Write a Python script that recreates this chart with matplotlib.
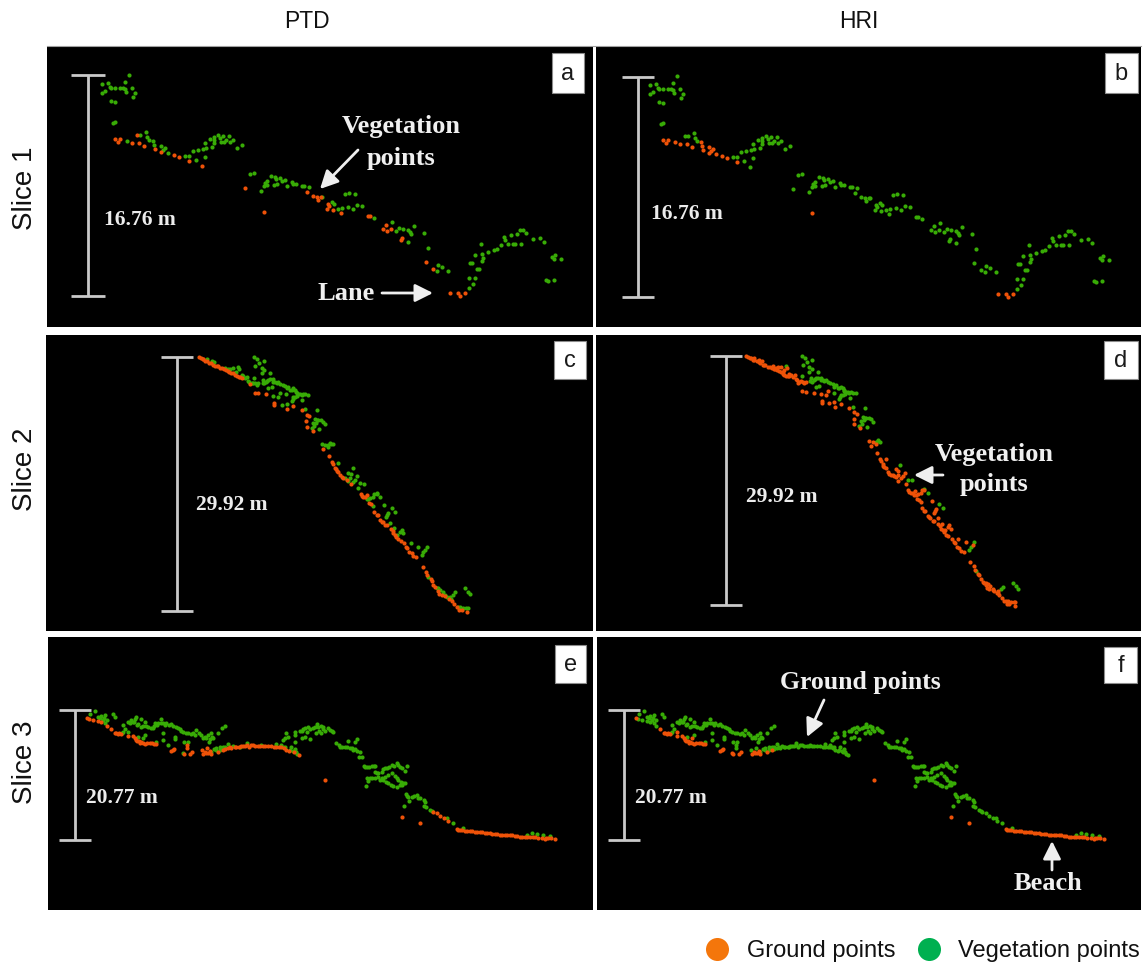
import numpy as np
import matplotlib
matplotlib.use("Agg")
import matplotlib.pyplot as plt
from matplotlib.patches import Rectangle

W, H = 1146, 963

# ==========================================================
# POINT CLOUDS (x, y in slice units, y going down)
# both = same class in both filters, swapped = class differs
# ==========================================================
S1_BOTH_GROUND = [(202, 278), (215, 280), (210, 289), (252, 292), (272, 292), (287, 301), (320, 309), (340, 318),
                  (378, 327), (393, 332), (423, 346), (648, 499), (1206, 742), (1231, 742), (1236, 749), (1251, 742)]
S1_GROUND_TO_VEG = [(268, 268), (463, 359), (591, 425), (777, 437), (796, 450), (806, 452), (819, 453), (811, 461),
                    (839, 473), (844, 480), (838, 488), (854, 492), (878, 500), (961, 510), (966, 510), (1014, 538),
                    (1029, 548), (1004, 549), (1016, 555), (1062, 577), (1058, 583), (1133, 647), (1156, 668)]
S1_VEG_TO_GROUND = [(238, 285), (316, 285), (317, 296), (338, 301), (350, 307), (345, 313), (361, 320)]
S1_BOTH_VEG = [(243, 87), (162, 113), (181, 110), (232, 107), (185, 122), (190, 127), (200, 127), (217, 125),
               (225, 127), (230, 130), (251, 126), (170, 135), (162, 141), (235, 138), (260, 141), (254, 152),
               (189, 166), (201, 168), (195, 232), (200, 229), (293, 257), (277, 268), (297, 272), (302, 281),
               (410, 330), (423, 330), (435, 314), (449, 311), (465, 309), (475, 305), (492, 303), (472, 290),
               (485, 280), (497, 272), (499, 283), (499, 291), (511, 266), (515, 277), (524, 270), (518, 289),
               (527, 289), (533, 282), (542, 270), (547, 287), (556, 281), (568, 306), (582, 296), (444, 342),
               (472, 334), (607, 383), (617, 380), (640, 436), (648, 420), (652, 412), (658, 406), (656, 418),
               (670, 389), (680, 394), (684, 400), (695, 397), (702, 405), (710, 401), (688, 414), (678, 418),
               (717, 419), (732, 408), (735, 414), (743, 415), (762, 419), (768, 421), (782, 423),
               (821, 453), (851, 468), (858, 473), (891, 444), (904, 440), (920, 444), (871, 490), (883, 485),
               (901, 484), (916, 488), (926, 476), (942, 480), (978, 515), (1031, 529), (1044, 555), (1054, 545),
               (1064, 548), (1079, 551), (1086, 558), (1089, 563), (1097, 541), (1129, 562), (1080, 587),
               (1140, 607), (1169, 656), (1182, 663), (1166, 676), (1200, 674), (1300, 595), (1282, 628),
               (1266, 652), (1302, 625), (1306, 635), (1303, 645), (1321, 618), (1339, 612), (1346, 610),
               (1358, 597), (1368, 572), (1371, 582), (1389, 566), (1408, 563), (1416, 552), (1426, 552),
               (1433, 560), (1381, 593), (1396, 593), (1402, 594), (1420, 594), (1456, 580), (1477, 577),
               (1489, 587), (1522, 628), (1511, 633), (1519, 640), (1538, 638), (1494, 702), (1500, 706),
               (1517, 702), (1286, 670), (1294, 670), (1263, 697), (1281, 696), (1276, 715), (1264, 725),
               (1272, 650)]

S2_BOTH_GROUND = [(116, 51), (122, 54), (128, 56), (140, 64), (148, 68), (158, 74), (165, 78), (173, 79), (180, 84),
                  (187, 85), (203, 92), (208, 95), (220, 100), (225, 106), (236, 111), (245, 114), (270, 133),
                  (284, 158), (295, 160), (318, 163), (342, 190), (343, 195), (382, 206), (400, 198), (425, 210),
                  (440, 224), (447, 228), (438, 243), (440, 260), (458, 272), (490, 328), (508, 347), (517, 367),
                  (520, 373), (525, 383), (535, 395), (540, 405), (545, 412), (572, 433), (602, 462), (610, 472),
                  (622, 465), (628, 490), (634, 492), (642, 516), (653, 526), (660, 540), (668, 547), (675, 555),
                  (692, 567), (698, 572), (708, 590), (715, 598), (722, 603), (732, 610), (742, 625), (748, 635),
                  (760, 648), (768, 652), (788, 682), (798, 695), (802, 705), (815, 722), (820, 735), (825, 742),
                  (838, 762), (845, 765), (868, 777), (882, 792), (898, 810), (922, 817),
                  (130, 58), (135, 62), (153, 70), (170, 78), (192, 88), (198, 90), (214, 98), (230, 108), (240, 112),
                  (527, 388), (530, 392), (550, 415), (560, 420), (605, 468), (615, 470), (650, 525), (665, 545),
                  (680, 555), (700, 580), (705, 585), (738, 620), (755, 640), (812, 718), (835, 752), (855, 768),
                  (875, 782), (890, 800), (905, 810)]
S2_VEG_TO_GROUND = [(140, 58), (155, 64), (162, 66), (195, 83), (210, 86), (220, 85), (238, 88), (225, 100),
                    (250, 108), (262, 110), (265, 122), (280, 128), (290, 135), (295, 130), (340, 168), (360, 158),
                    (355, 170), (365, 195), (380, 192), (485, 312), (495, 315), (505, 322), (535, 368), (565, 398),
                    (572, 403), (592, 408), (555, 415), (565, 422), (580, 425), (595, 443), (620, 476), (630, 475),
                    (642, 462), (640, 497), (672, 495), (682, 525), (678, 532), (690, 548), (702, 565), (725, 570),
                    (730, 580), (712, 585), (752, 610), (775, 622), (830, 745), (840, 750), (855, 765), (872, 778),
                    (895, 800), (910, 805), (923, 804),
                    (205, 88), (228, 95), (245, 105), (255, 115), (268, 125), (275, 130), (285, 130), (570, 415),
                    (585, 420), (625, 478), (640, 470), (650, 462), (685, 520), (720, 575), (795, 630), (835, 745),
                    (848, 755), (860, 770), (870, 770), (900, 800), (918, 805)]
S2_BOTH_VEG = [(235, 82), (283, 113), (282, 52), (292, 56), (312, 62), (298, 70), (285, 78), (305, 85), (312, 90),
               (330, 100), (305, 100), (310, 120), (312, 130), (325, 120), (330, 118), (345, 125), (355, 125),
               (368, 135), (385, 140), (395, 150), (405, 150), (410, 158), (420, 162), (430, 162), (444, 165),
               (325, 145), (335, 142), (378, 163), (400, 172), (395, 182), (426, 181), (435, 207), (472, 210),
               (465, 238), (472, 240), (483, 240), (495, 252), (460, 250), (478, 268), (455, 265), (510, 308),
               (518, 313), (578, 385), (600, 430), (612, 432), (650, 458), (660, 470), (695, 503), (705, 515),
               (800, 620), (790, 635), (785, 645), (805, 710), (885, 757), (880, 765), (915, 745), (925, 755),
               (930, 763),
               (340, 125), (350, 128), (360, 132), (375, 138), (380, 145), (390, 150), (400, 145), (408, 155),
               (415, 162), (425, 165), (435, 163), (405, 172), (412, 168), (398, 178), (308, 128), (318, 125),
               (322, 122), (340, 118), (468, 248), (462, 258), (475, 240), (490, 245), (505, 315), (512, 312)]

S3_BOTH_GROUND = [(118, 83), (190, 118), (200, 130), (212, 128), (218, 132), (240, 137), (255, 137), (265, 150),
                  (272, 153), (280, 155), (290, 162), (305, 160), (318, 163), (325, 163), (370, 183), (378, 178),
                  (408, 192), (425, 192), (432, 185), (465, 193), (480, 190), (490, 192), (510, 185), (525, 180),
                  (831, 271), (1061, 382), (1116, 400), (1226, 417), (1236, 420), (1251, 422), (1266, 424),
                  (1281, 425), (1296, 427), (1311, 428), (1326, 430), (1341, 432), (1356, 434), (1371, 435),
                  (1386, 436), (1401, 437), (1416, 440), (1431, 441), (1446, 440), (1456, 440), (1481, 445),
                  (1501, 445), (1522, 447),
                  (260, 143), (268, 153), (276, 158), (285, 160), (298, 160), (312, 160), (210, 132), (205, 128),
                  (375, 180), (470, 185), (485, 182), (475, 190),
                  (1230, 419), (1243, 421), (1258, 423), (1273, 424), (1288, 426), (1303, 427), (1318, 429),
                  (1333, 431), (1348, 433), (1363, 434), (1378, 435), (1393, 436), (1408, 438), (1423, 440),
                  (1438, 441), (1462, 441), (1471, 443), (1490, 446), (1495, 443), (1510, 443)]
S3_GROUND_TO_VEG = [(122, 86), (135, 90), (150, 93), (158, 97), (176, 108), (417, 165), (418, 175), (462, 180),
                    (478, 175), (540, 175), (550, 175), (565, 170), (580, 168), (590, 167), (603, 170), (615, 165),
                    (630, 168), (645, 168), (660, 168), (685, 170), (700, 172), (722, 183), (738, 187), (752, 196),
                    (1156, 365), (1166, 370), (1176, 378), (1188, 383), (1201, 392),
                    (560, 172), (572, 170), (585, 168), (597, 165), (610, 166), (622, 167), (637, 168), (652, 168),
                    (668, 168), (678, 170), (692, 170), (708, 175), (715, 180), (530, 178), (545, 172)]
S3_VEG_TO_GROUND = [(285, 145), (240, 125), (405, 188)]
S3_BOTH_VEG = [(142, 63), (127, 72), (160, 78), (170, 75), (168, 85), (178, 90), (196, 72), (200, 82), (170, 100),
               (225, 105), (240, 95), (250, 90), (263, 82), (280, 88), (290, 95), (258, 97), (270, 102), (285, 108),
               (300, 112), (315, 115), (322, 100), (330, 98), (338, 88), (345, 100), (355, 100), (370, 102),
               (385, 110), (395, 118), (405, 125), (420, 130), (435, 128), (445, 120), (458, 135), (470, 140),
               (480, 135), (490, 130), (495, 145), (483, 155), (510, 130), (522, 115), (530, 107), (225, 125),
               (270, 140), (290, 135), (345, 128), (345, 150), (325, 155), (380, 140), (380, 148), (360, 165),
               (408, 155), (420, 155), (490, 185), (505, 175), (515, 172), (525, 172), (540, 162), (597, 160),
               (685, 162), (705, 170), (715, 130), (712, 145), (706, 150), (720, 140), (740, 125), (742, 135),
               (755, 122), (740, 155), (728, 170), (740, 178),
               (245, 100), (255, 95), (268, 105), (278, 112), (295, 108), (308, 115), (318, 108), (328, 105),
               (340, 100), (350, 105), (362, 105), (375, 108), (390, 115), (400, 122), (415, 128), (428, 132),
               (440, 135), (452, 130), (465, 145), (475, 145), (487, 148), (492, 140), (232, 118), (222, 128),
               (260, 88), (150, 80), (155, 85), (165, 90), (505, 180), (498, 178), (515, 180), (530, 170),
               (555, 168), (575, 170), (640, 165), (700, 165), (712, 172), (725, 180), (735, 183), (745, 185),
               (748, 192),
               (761, 122), (771, 115), (781, 112), (794, 115), (806, 103), (818, 108), (826, 118), (841, 115),
               (856, 125), (771, 140), (761, 145), (786, 148), (804, 130), (818, 130), (864, 158), (876, 170),
               (891, 170), (906, 175), (921, 178), (936, 185), (899, 152), (921, 155), (928, 148), (941, 202),
               (948, 228), (964, 230), (981, 227), (986, 248), (1001, 245), (1018, 235), (1031, 225), (1046, 220),
               (1056, 232), (1078, 227), (1071, 243), (956, 263), (961, 272), (981, 265), (1001, 265), (1021, 255),
               (1041, 258), (1051, 270), (1004, 270), (1021, 280), (1036, 288), (1056, 285), (1066, 280),
               (953, 288), (1076, 318), (1091, 322), (1106, 315), (1116, 325), (1084, 332), (1131, 335),
               (1129, 348), (1069, 347), (1146, 360), (1196, 385), (1216, 398), (1246, 413), (1436, 435),
               (1451, 430), (1466, 432), (1486, 435), (1506, 438),
               (766, 118), (776, 125), (786, 118), (801, 110), (811, 112), (814, 122), (824, 110), (831, 122),
               (846, 120), (851, 122), (874, 165), (881, 172), (898, 172), (911, 175), (916, 180), (928, 182),
               (934, 200), (951, 230), (958, 230), (971, 228), (978, 228), (981, 245), (991, 248), (1006, 238),
               (1011, 235), (1024, 230), (1039, 228), (1051, 225), (1061, 235), (966, 265), (971, 265), (991, 262),
               (996, 270), (1011, 262), (1031, 250), (1046, 265), (1014, 275), (1028, 285), (1046, 290),
               (1061, 285), (1071, 280), (1058, 275), (1074, 312), (1081, 320), (1098, 318), (1111, 325),
               (1128, 330), (1134, 350), (1151, 362)]

SLICE_LABELS = ["Slice 1", "Slice 2", "Slice 3"]
METHODS = ["PTD", "HRI"]
PANEL_LETTERS = ["a", "b", "c", "d", "e", "f"]
BAR_LABELS = ["16.76 m", "16.76 m", "29.92 m", "29.92 m", "20.77 m", "20.77 m"]
LEGEND_LABELS = ["Ground points", "Vegetation points"]

GROUND = "#ee5208"
VEG = "#38ab06"
BAR = "#c9c9c9"
SERIF = "Liberation Serif"
SANS = "Liberation Sans"


def add_panel(fig, box, xlim, ylim, ground_sets, veg_sets):
    # box is left, top, right, bottom in figure pixels
    left, top, right, bottom = box
    ax = fig.add_axes([left / W, 1 - bottom / H, (right - left) / W, (bottom - top) / H])
    ax.set_facecolor("black")
    ax.set_xlim(*xlim)
    ax.set_ylim(*ylim)
    ax.set_xticks([])
    ax.set_yticks([])
    for s in ax.spines.values():
        s.set_visible(False)
    veg = np.array(sum(veg_sets, []))
    ground = np.array(sum(ground_sets, []))
    ax.scatter(veg[:, 0], veg[:, 1], s=9, c=VEG, linewidths=0, zorder=2)
    ax.scatter(ground[:, 0], ground[:, 1], s=9, c=GROUND, linewidths=0, zorder=3)
    return ax


fig = plt.figure(figsize=(W / 100, H / 100), dpi=100, facecolor="white")

add_panel(fig, (47, 46, 593, 327), (-3, 1635), (843, 0),
          [S1_BOTH_GROUND, S1_GROUND_TO_VEG], [S1_BOTH_VEG, S1_VEG_TO_GROUND])
add_panel(fig, (596, 46, 1141, 327), (0, 1635), (840, -3),
          [S1_BOTH_GROUND, S1_VEG_TO_GROUND], [S1_BOTH_VEG, S1_GROUND_TO_VEG])
add_panel(fig, (46, 335, 593, 631), (-342, 1299), (873, -15),
          [S2_BOTH_GROUND], [S2_BOTH_VEG, S2_VEG_TO_GROUND])
add_panel(fig, (596, 335, 1141, 631), (-335, 1300), (893, -13),
          [S2_BOTH_GROUND, S2_VEG_TO_GROUND], [S2_BOTH_VEG])
add_panel(fig, (48, 637, 593, 910), (0, 1635), (660, -159),
          [S3_BOTH_GROUND, S3_GROUND_TO_VEG], [S3_BOTH_VEG, S3_VEG_TO_GROUND])
add_panel(fig, (597, 637, 1141, 910), (0, 1632), (660, -159),
          [S3_BOTH_GROUND, S3_VEG_TO_GROUND], [S3_BOTH_VEG, S3_GROUND_TO_VEG])

# overlay in figure pixels for the bars, labels and arrows
over = fig.add_axes([0, 0, 1, 1], facecolor="none")
over.set_xlim(0, W)
over.set_ylim(H, 0)
over.axis("off")

# thin grey line on top of the first row
over.plot([47, 1141], [46, 46], color="#a0a0a0", lw=0.8)

# scale bars: x, top, bottom, tick half width, label x, label y
bars = [(88, 75, 296, 17, 104, 220), (638, 77, 297, 16, 651, 214),
        (177, 357, 611, 16, 196, 505), (726, 356, 605, 16, 746, 497),
        (75, 710, 840, 16, 86, 798), (624, 710, 840, 16, 635, 798)]
for (x, y0, y1, hw, tx, ty), lab in zip(bars, BAR_LABELS):
    over.plot([x, x], [y0, y1], color=BAR, lw=2, solid_capstyle="butt")
    over.plot([x - hw, x + hw], [y0, y0], color=BAR, lw=2, solid_capstyle="butt")
    over.plot([x - hw, x + hw], [y1, y1], color=BAR, lw=2, solid_capstyle="butt")
    over.text(tx, ty, lab, color="#ececec", family=SERIF, weight="bold", fontsize=15.5, va="center", ha="left")

# panel letters
letter_boxes = [(552, 53, 32, 40), (1105, 53, 33, 40), (554, 341, 32, 38),
                (1104, 341, 34, 38), (555, 645, 31, 38), (1104, 647, 33, 36)]
for (x, y, w, h), lab in zip(letter_boxes, PANEL_LETTERS):
    over.add_patch(Rectangle((x, y), w, h, facecolor="white", edgecolor="#8c8c8c", lw=0.8, zorder=5))
    over.text(x + w / 2, y + h / 2 + 1, lab, color="#1a1a1a", family=SANS, fontsize=17,
              ha="center", va="center", zorder=6)

# annotations
notes = [("Vegetation", 401, 126), ("points", 401, 159), ("Lane", 346, 294),
         ("Vegetation", 994, 454), ("points", 994, 485), ("Ground points", 860, 683), ("Beach", 1048, 884)]
for lab, x, y in notes:
    over.text(x, y, lab, color="#f0f0f0", family=SERIF, weight="bold", fontsize=19 if lab != "Ground points" else 18.5,
              ha="center", va="center", zorder=6)

arrows = [((358, 150), (320, 189)), ((382, 293), (433, 293)), ((943, 475), (914, 475)),
          ((824, 700), (807, 737)), ((1052, 870), (1052, 841))]
for start, end in arrows:
    over.annotate("", xy=end, xytext=start, zorder=6,
                  arrowprops=dict(arrowstyle="-|>,head_length=0.6,head_width=0.3", color="#efefef", lw=2,
                                  mutation_scale=18, shrinkA=0, shrinkB=0))

# column and row titles
for lab, x in zip(METHODS, [307, 859]):
    over.text(x, 22, lab, color="#111111", family=SANS, fontsize=16.5, ha="center", va="center")
for lab, y in zip(SLICE_LABELS, [188, 469, 762]):
    over.text(25, y, lab, color="#111111", family=SANS, fontsize=20, rotation=90, ha="center", va="center")

# legend
over.scatter([717], [949], s=275, c="#f4760b", linewidths=0, clip_on=False)
over.scatter([929], [949], s=275, c="#00b050", linewidths=0, clip_on=False)
over.text(747, 951, LEGEND_LABELS[0], color="#111111", family=SANS, fontsize=17, ha="left", va="center")
over.text(958, 951, LEGEND_LABELS[1], color="#111111", family=SANS, fontsize=17, ha="left", va="center")

fig.savefig("out.png", dpi=100, facecolor="white")
